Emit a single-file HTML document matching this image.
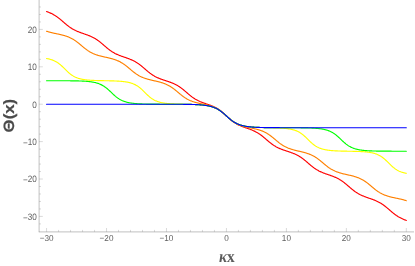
<!DOCTYPE html>
<html><head><meta charset="utf-8"><style>
html,body{margin:0;padding:0;background:#fff;}
body{width:415px;height:266px;overflow:hidden;font-family:"Liberation Sans",sans-serif;}
svg{display:block;will-change:transform;}
text{font-family:"Liberation Sans",sans-serif;text-rendering:geometricPrecision;}
.ser{font-family:"Liberation Serif",serif;}
</style></head><body>
<svg width="415" height="266" viewBox="0 0 415 266">
<rect width="415" height="266" fill="#fff"/>
<line x1="39.1" y1="0" x2="39.1" y2="232.15" stroke="#808080" stroke-width="0.5"/>
<line x1="38.85" y1="231.9" x2="414" y2="231.9" stroke="#808080" stroke-width="0.5"/>
<line x1="39.1" y1="223.90" x2="41.00" y2="223.90" stroke="#808080" stroke-width="0.3"/>
<line x1="39.1" y1="216.42" x2="42.80" y2="216.42" stroke="#808080" stroke-width="0.3"/>
<line x1="39.1" y1="208.94" x2="41.00" y2="208.94" stroke="#808080" stroke-width="0.3"/>
<line x1="39.1" y1="201.46" x2="41.00" y2="201.46" stroke="#808080" stroke-width="0.3"/>
<line x1="39.1" y1="193.98" x2="41.00" y2="193.98" stroke="#808080" stroke-width="0.3"/>
<line x1="39.1" y1="186.50" x2="41.00" y2="186.50" stroke="#808080" stroke-width="0.3"/>
<line x1="39.1" y1="179.02" x2="42.80" y2="179.02" stroke="#808080" stroke-width="0.3"/>
<line x1="39.1" y1="171.54" x2="41.00" y2="171.54" stroke="#808080" stroke-width="0.3"/>
<line x1="39.1" y1="164.06" x2="41.00" y2="164.06" stroke="#808080" stroke-width="0.3"/>
<line x1="39.1" y1="156.58" x2="41.00" y2="156.58" stroke="#808080" stroke-width="0.3"/>
<line x1="39.1" y1="149.10" x2="41.00" y2="149.10" stroke="#808080" stroke-width="0.3"/>
<line x1="39.1" y1="141.62" x2="42.80" y2="141.62" stroke="#808080" stroke-width="0.3"/>
<line x1="39.1" y1="134.14" x2="41.00" y2="134.14" stroke="#808080" stroke-width="0.3"/>
<line x1="39.1" y1="126.66" x2="41.00" y2="126.66" stroke="#808080" stroke-width="0.3"/>
<line x1="39.1" y1="119.18" x2="41.00" y2="119.18" stroke="#808080" stroke-width="0.3"/>
<line x1="39.1" y1="111.70" x2="41.00" y2="111.70" stroke="#808080" stroke-width="0.3"/>
<line x1="39.1" y1="104.22" x2="42.80" y2="104.22" stroke="#808080" stroke-width="0.3"/>
<line x1="39.1" y1="96.74" x2="41.00" y2="96.74" stroke="#808080" stroke-width="0.3"/>
<line x1="39.1" y1="89.26" x2="41.00" y2="89.26" stroke="#808080" stroke-width="0.3"/>
<line x1="39.1" y1="81.78" x2="41.00" y2="81.78" stroke="#808080" stroke-width="0.3"/>
<line x1="39.1" y1="74.30" x2="41.00" y2="74.30" stroke="#808080" stroke-width="0.3"/>
<line x1="39.1" y1="66.82" x2="42.80" y2="66.82" stroke="#808080" stroke-width="0.3"/>
<line x1="39.1" y1="59.34" x2="41.00" y2="59.34" stroke="#808080" stroke-width="0.3"/>
<line x1="39.1" y1="51.86" x2="41.00" y2="51.86" stroke="#808080" stroke-width="0.3"/>
<line x1="39.1" y1="44.38" x2="41.00" y2="44.38" stroke="#808080" stroke-width="0.3"/>
<line x1="39.1" y1="36.90" x2="41.00" y2="36.90" stroke="#808080" stroke-width="0.3"/>
<line x1="39.1" y1="29.42" x2="42.80" y2="29.42" stroke="#808080" stroke-width="0.3"/>
<line x1="39.1" y1="21.94" x2="41.00" y2="21.94" stroke="#808080" stroke-width="0.3"/>
<line x1="39.1" y1="14.46" x2="41.00" y2="14.46" stroke="#808080" stroke-width="0.3"/>
<line x1="39.1" y1="6.98" x2="41.00" y2="6.98" stroke="#808080" stroke-width="0.3"/>
<line x1="46.56" y1="231.9" x2="46.56" y2="228.00" stroke="#808080" stroke-width="0.3"/>
<line x1="58.55" y1="231.9" x2="58.55" y2="229.90" stroke="#808080" stroke-width="0.3"/>
<line x1="70.54" y1="231.9" x2="70.54" y2="229.90" stroke="#808080" stroke-width="0.3"/>
<line x1="82.54" y1="231.9" x2="82.54" y2="229.90" stroke="#808080" stroke-width="0.3"/>
<line x1="94.53" y1="231.9" x2="94.53" y2="229.90" stroke="#808080" stroke-width="0.3"/>
<line x1="106.52" y1="231.9" x2="106.52" y2="228.00" stroke="#808080" stroke-width="0.3"/>
<line x1="118.51" y1="231.9" x2="118.51" y2="229.90" stroke="#808080" stroke-width="0.3"/>
<line x1="130.50" y1="231.9" x2="130.50" y2="229.90" stroke="#808080" stroke-width="0.3"/>
<line x1="142.50" y1="231.9" x2="142.50" y2="229.90" stroke="#808080" stroke-width="0.3"/>
<line x1="154.49" y1="231.9" x2="154.49" y2="229.90" stroke="#808080" stroke-width="0.3"/>
<line x1="166.48" y1="231.9" x2="166.48" y2="228.00" stroke="#808080" stroke-width="0.3"/>
<line x1="178.47" y1="231.9" x2="178.47" y2="229.90" stroke="#808080" stroke-width="0.3"/>
<line x1="190.46" y1="231.9" x2="190.46" y2="229.90" stroke="#808080" stroke-width="0.3"/>
<line x1="202.46" y1="231.9" x2="202.46" y2="229.90" stroke="#808080" stroke-width="0.3"/>
<line x1="214.45" y1="231.9" x2="214.45" y2="229.90" stroke="#808080" stroke-width="0.3"/>
<line x1="226.44" y1="231.9" x2="226.44" y2="228.00" stroke="#808080" stroke-width="0.3"/>
<line x1="238.43" y1="231.9" x2="238.43" y2="229.90" stroke="#808080" stroke-width="0.3"/>
<line x1="250.42" y1="231.9" x2="250.42" y2="229.90" stroke="#808080" stroke-width="0.3"/>
<line x1="262.42" y1="231.9" x2="262.42" y2="229.90" stroke="#808080" stroke-width="0.3"/>
<line x1="274.41" y1="231.9" x2="274.41" y2="229.90" stroke="#808080" stroke-width="0.3"/>
<line x1="286.40" y1="231.9" x2="286.40" y2="228.00" stroke="#808080" stroke-width="0.3"/>
<line x1="298.39" y1="231.9" x2="298.39" y2="229.90" stroke="#808080" stroke-width="0.3"/>
<line x1="310.38" y1="231.9" x2="310.38" y2="229.90" stroke="#808080" stroke-width="0.3"/>
<line x1="322.38" y1="231.9" x2="322.38" y2="229.90" stroke="#808080" stroke-width="0.3"/>
<line x1="334.37" y1="231.9" x2="334.37" y2="229.90" stroke="#808080" stroke-width="0.3"/>
<line x1="346.36" y1="231.9" x2="346.36" y2="228.00" stroke="#808080" stroke-width="0.3"/>
<line x1="358.35" y1="231.9" x2="358.35" y2="229.90" stroke="#808080" stroke-width="0.3"/>
<line x1="370.34" y1="231.9" x2="370.34" y2="229.90" stroke="#808080" stroke-width="0.3"/>
<line x1="382.34" y1="231.9" x2="382.34" y2="229.90" stroke="#808080" stroke-width="0.3"/>
<line x1="394.33" y1="231.9" x2="394.33" y2="229.90" stroke="#808080" stroke-width="0.3"/>
<line x1="406.32" y1="231.9" x2="406.32" y2="228.00" stroke="#808080" stroke-width="0.3"/>
<path d="M46.56 11.49 L47.06 11.68 L47.56 11.87 L48.06 12.07 L48.56 12.27 L49.06 12.47 L49.56 12.69 L50.06 12.90 L50.56 13.13 L51.06 13.36 L51.56 13.60 L52.06 13.85 L52.56 14.11 L53.06 14.38 L53.56 14.65 L54.05 14.94 L54.55 15.24 L55.05 15.54 L55.55 15.86 L56.05 16.19 L56.55 16.52 L57.05 16.87 L57.55 17.23 L58.05 17.60 L58.55 17.98 L59.05 18.37 L59.55 18.76 L60.05 19.17 L60.55 19.58 L61.05 20.00 L61.55 20.42 L62.05 20.85 L62.55 21.28 L63.05 21.71 L63.55 22.15 L64.05 22.58 L64.55 23.01 L65.05 23.44 L65.55 23.86 L66.05 24.28 L66.55 24.70 L67.05 25.10 L67.55 25.50 L68.05 25.89 L68.55 26.27 L69.04 26.64 L69.54 27.00 L70.04 27.35 L70.54 27.69 L71.04 28.02 L71.54 28.34 L72.04 28.65 L72.54 28.95 L73.04 29.24 L73.54 29.52 L74.04 29.78 L74.54 30.04 L75.04 30.29 L75.54 30.54 L76.04 30.77 L76.54 31.00 L77.04 31.22 L77.54 31.43 L78.04 31.64 L78.54 31.84 L79.04 32.03 L79.54 32.23 L80.04 32.41 L80.54 32.60 L81.04 32.78 L81.54 32.96 L82.04 33.13 L82.54 33.31 L83.04 33.48 L83.54 33.65 L84.03 33.83 L84.53 34.00 L85.03 34.17 L85.53 34.35 L86.03 34.52 L86.53 34.70 L87.03 34.88 L87.53 35.07 L88.03 35.26 L88.53 35.45 L89.03 35.65 L89.53 35.85 L90.03 36.06 L90.53 36.27 L91.03 36.49 L91.53 36.72 L92.03 36.96 L92.53 37.20 L93.03 37.45 L93.53 37.71 L94.03 37.98 L94.53 38.27 L95.03 38.56 L95.53 38.86 L96.03 39.17 L96.53 39.49 L97.03 39.82 L97.53 40.16 L98.03 40.51 L98.53 40.88 L99.02 41.25 L99.52 41.63 L100.02 42.02 L100.52 42.42 L101.02 42.83 L101.52 43.25 L102.02 43.67 L102.52 44.09 L103.02 44.52 L103.52 44.95 L104.02 45.39 L104.52 45.82 L105.02 46.25 L105.52 46.68 L106.02 47.11 L106.52 47.53 L107.02 47.95 L107.52 48.36 L108.02 48.76 L108.52 49.16 L109.02 49.54 L109.52 49.92 L110.02 50.29 L110.52 50.64 L111.02 50.99 L111.52 51.33 L112.02 51.65 L112.52 51.97 L113.02 52.27 L113.52 52.56 L114.01 52.85 L114.51 53.12 L115.01 53.39 L115.51 53.64 L116.01 53.89 L116.51 54.13 L117.01 54.36 L117.51 54.58 L118.01 54.80 L118.51 55.01 L119.01 55.22 L119.51 55.42 L120.01 55.61 L120.51 55.80 L121.01 55.99 L121.51 56.17 L122.01 56.35 L122.51 56.53 L123.01 56.70 L123.51 56.87 L124.01 57.05 L124.51 57.22 L125.01 57.39 L125.51 57.57 L126.01 57.74 L126.51 57.91 L127.01 58.09 L127.51 58.27 L128.01 58.45 L128.51 58.64 L129.00 58.83 L129.50 59.02 L130.00 59.22 L130.50 59.43 L131.00 59.64 L131.50 59.85 L132.00 60.08 L132.50 60.31 L133.00 60.55 L133.50 60.80 L134.00 61.05 L134.50 61.32 L135.00 61.59 L135.50 61.87 L136.00 62.17 L136.50 62.47 L137.00 62.79 L137.50 63.11 L138.00 63.45 L138.50 63.79 L139.00 64.15 L139.50 64.51 L140.00 64.89 L140.50 65.28 L141.00 65.67 L141.50 66.07 L142.00 66.48 L142.50 66.90 L143.00 67.32 L143.50 67.75 L144.00 68.18 L144.49 68.61 L144.99 69.04 L145.49 69.47 L145.99 69.90 L146.49 70.33 L146.99 70.76 L147.49 71.18 L147.99 71.59 L148.49 72.00 L148.99 72.39 L149.49 72.78 L149.99 73.17 L150.49 73.54 L150.99 73.90 L151.49 74.25 L151.99 74.59 L152.49 74.92 L152.99 75.24 L153.49 75.55 L153.99 75.84 L154.49 76.13 L154.99 76.41 L155.49 76.68 L155.99 76.93 L156.49 77.18 L156.99 77.42 L157.49 77.66 L157.99 77.88 L158.49 78.10 L158.99 78.31 L159.48 78.51 L159.98 78.71 L160.48 78.90 L160.98 79.09 L161.48 79.27 L161.98 79.45 L162.48 79.63 L162.98 79.80 L163.48 79.97 L163.98 80.14 L164.48 80.30 L164.98 80.47 L165.48 80.63 L165.98 80.80 L166.48 80.96 L166.98 81.13 L167.48 81.29 L167.98 81.46 L168.48 81.63 L168.98 81.80 L169.48 81.98 L169.98 82.15 L170.48 82.34 L170.98 82.52 L171.48 82.72 L171.98 82.91 L172.48 83.12 L172.98 83.33 L173.48 83.54 L173.97 83.77 L174.47 84.00 L174.97 84.24 L175.47 84.49 L175.97 84.75 L176.47 85.01 L176.97 85.29 L177.47 85.58 L177.97 85.87 L178.47 86.18 L178.97 86.50 L179.47 86.83 L179.97 87.17 L180.47 87.52 L180.97 87.88 L181.47 88.25 L181.97 88.63 L182.47 89.02 L182.97 89.42 L183.47 89.82 L183.97 90.23 L184.47 90.65 L184.97 91.07 L185.47 91.50 L185.97 91.93 L186.47 92.36 L186.97 92.79 L187.47 93.22 L187.97 93.65 L188.47 94.07 L188.97 94.49 L189.46 94.91 L189.96 95.32 L190.46 95.72 L190.96 96.11 L191.46 96.49 L191.96 96.87 L192.46 97.23 L192.96 97.58 L193.46 97.93 L193.96 98.26 L194.46 98.58 L194.96 98.90 L195.46 99.20 L195.96 99.49 L196.46 99.77 L196.96 100.04 L197.46 100.30 L197.96 100.56 L198.46 100.80 L198.96 101.04 L199.46 101.26 L199.96 101.49 L200.46 101.70 L200.96 101.91 L201.46 102.11 L201.96 102.31 L202.46 102.50 L202.96 102.69 L203.46 102.87 L203.95 103.05 L204.45 103.23 L204.95 103.40 L205.45 103.58 L205.95 103.75 L206.45 103.92 L206.95 104.10 L207.45 104.27 L207.95 104.44 L208.45 104.62 L208.95 104.79 L209.45 104.97 L209.95 105.16 L210.45 105.34 L210.95 105.53 L211.45 105.73 L211.95 105.93 L212.45 106.14 L212.95 106.35 L213.45 106.57 L213.95 106.80 L214.45 107.04 L214.95 107.28 L215.45 107.54 L215.95 107.80 L216.45 108.08 L216.95 108.37 L217.45 108.66 L217.95 108.97 L218.45 109.30 L218.94 109.63 L219.44 109.98 L219.94 110.34 L220.44 110.71 L220.94 111.10 L221.44 111.49 L221.94 111.90 L222.44 112.32 L222.94 112.75 L223.44 113.20 L223.94 113.64 L224.44 114.10 L224.94 114.56 L225.44 115.03 L225.94 115.50 L226.44 115.97 L226.94 116.44 L227.44 116.91 L227.94 117.38 L228.44 117.84 L228.94 118.30 L229.44 118.74 L229.94 119.18 L230.44 119.61 L230.94 120.04 L231.44 120.44 L231.94 120.84 L232.44 121.23 L232.94 121.60 L233.44 121.96 L233.94 122.31 L234.43 122.64 L234.93 122.96 L235.43 123.27 L235.93 123.57 L236.43 123.86 L236.93 124.14 L237.43 124.40 L237.93 124.66 L238.43 124.90 L238.93 125.14 L239.43 125.37 L239.93 125.59 L240.43 125.80 L240.93 126.01 L241.43 126.21 L241.93 126.41 L242.43 126.60 L242.93 126.78 L243.43 126.97 L243.93 127.15 L244.43 127.32 L244.93 127.50 L245.43 127.67 L245.93 127.84 L246.43 128.02 L246.93 128.19 L247.43 128.36 L247.93 128.53 L248.43 128.71 L248.93 128.89 L249.42 129.07 L249.92 129.25 L250.42 129.44 L250.92 129.63 L251.42 129.83 L251.92 130.03 L252.42 130.24 L252.92 130.45 L253.42 130.67 L253.92 130.90 L254.42 131.14 L254.92 131.38 L255.42 131.64 L255.92 131.90 L256.42 132.17 L256.92 132.45 L257.42 132.74 L257.92 133.04 L258.42 133.36 L258.92 133.68 L259.42 134.01 L259.92 134.35 L260.42 134.71 L260.92 135.07 L261.42 135.45 L261.92 135.83 L262.42 136.22 L262.92 136.62 L263.42 137.03 L263.92 137.45 L264.41 137.87 L264.91 138.29 L265.41 138.72 L265.91 139.15 L266.41 139.58 L266.91 140.01 L267.41 140.44 L267.91 140.87 L268.41 141.29 L268.91 141.71 L269.41 142.12 L269.91 142.52 L270.41 142.92 L270.91 143.31 L271.41 143.69 L271.91 144.06 L272.41 144.42 L272.91 144.77 L273.41 145.11 L273.91 145.44 L274.41 145.76 L274.91 146.06 L275.41 146.36 L275.91 146.65 L276.41 146.92 L276.91 147.19 L277.41 147.45 L277.91 147.70 L278.41 147.94 L278.90 148.17 L279.40 148.39 L279.90 148.61 L280.40 148.82 L280.90 149.02 L281.40 149.22 L281.90 149.41 L282.40 149.60 L282.90 149.78 L283.40 149.96 L283.90 150.14 L284.40 150.31 L284.90 150.48 L285.40 150.65 L285.90 150.81 L286.40 150.98 L286.90 151.14 L287.40 151.31 L287.90 151.47 L288.40 151.64 L288.90 151.80 L289.40 151.97 L289.90 152.14 L290.40 152.31 L290.90 152.49 L291.40 152.67 L291.90 152.85 L292.40 153.04 L292.90 153.23 L293.40 153.43 L293.89 153.63 L294.39 153.84 L294.89 154.06 L295.39 154.28 L295.89 154.51 L296.39 154.75 L296.89 155.00 L297.39 155.26 L297.89 155.53 L298.39 155.81 L298.89 156.10 L299.39 156.39 L299.89 156.70 L300.39 157.02 L300.89 157.35 L301.39 157.69 L301.89 158.04 L302.39 158.40 L302.89 158.77 L303.39 159.15 L303.89 159.54 L304.39 159.94 L304.89 160.35 L305.39 160.76 L305.89 161.18 L306.39 161.61 L306.89 162.03 L307.39 162.47 L307.89 162.90 L308.39 163.33 L308.88 163.76 L309.38 164.19 L309.88 164.62 L310.38 165.04 L310.88 165.46 L311.38 165.87 L311.88 166.27 L312.38 166.66 L312.88 167.05 L313.38 167.42 L313.88 167.79 L314.38 168.15 L314.88 168.49 L315.38 168.83 L315.88 169.15 L316.38 169.47 L316.88 169.77 L317.38 170.07 L317.88 170.35 L318.38 170.62 L318.88 170.89 L319.38 171.14 L319.88 171.39 L320.38 171.63 L320.88 171.86 L321.38 172.08 L321.88 172.30 L322.38 172.51 L322.88 172.72 L323.38 172.92 L323.88 173.11 L324.37 173.30 L324.87 173.49 L325.37 173.67 L325.87 173.85 L326.37 174.02 L326.87 174.20 L327.37 174.37 L327.87 174.55 L328.37 174.72 L328.87 174.89 L329.37 175.06 L329.87 175.24 L330.37 175.41 L330.87 175.59 L331.37 175.77 L331.87 175.95 L332.37 176.14 L332.87 176.33 L333.37 176.52 L333.87 176.72 L334.37 176.93 L334.87 177.14 L335.37 177.35 L335.87 177.58 L336.37 177.81 L336.87 178.05 L337.37 178.30 L337.87 178.55 L338.37 178.82 L338.87 179.09 L339.36 179.38 L339.86 179.67 L340.36 179.97 L340.86 180.29 L341.36 180.61 L341.86 180.95 L342.36 181.30 L342.86 181.65 L343.36 182.02 L343.86 182.40 L344.36 182.78 L344.86 183.18 L345.36 183.58 L345.86 183.99 L346.36 184.41 L346.86 184.83 L347.36 185.26 L347.86 185.69 L348.36 186.12 L348.86 186.55 L349.36 186.99 L349.86 187.42 L350.36 187.85 L350.86 188.27 L351.36 188.69 L351.86 189.11 L352.36 189.52 L352.86 189.92 L353.36 190.31 L353.86 190.69 L354.35 191.06 L354.85 191.43 L355.35 191.78 L355.85 192.12 L356.35 192.45 L356.85 192.77 L357.35 193.08 L357.85 193.38 L358.35 193.67 L358.85 193.95 L359.35 194.22 L359.85 194.49 L360.35 194.74 L360.85 194.98 L361.35 195.22 L361.85 195.45 L362.35 195.67 L362.85 195.88 L363.35 196.09 L363.85 196.29 L364.35 196.49 L364.85 196.68 L365.35 196.87 L365.85 197.06 L366.35 197.24 L366.85 197.42 L367.35 197.59 L367.85 197.77 L368.35 197.94 L368.85 198.11 L369.34 198.29 L369.84 198.46 L370.34 198.63 L370.84 198.81 L371.34 198.98 L371.84 199.16 L372.34 199.34 L372.84 199.52 L373.34 199.71 L373.84 199.90 L374.34 200.10 L374.84 200.30 L375.34 200.51 L375.84 200.72 L376.34 200.94 L376.84 201.17 L377.34 201.40 L377.84 201.65 L378.34 201.90 L378.84 202.16 L379.34 202.42 L379.84 202.70 L380.34 202.99 L380.84 203.29 L381.34 203.60 L381.84 203.92 L382.34 204.25 L382.84 204.59 L383.34 204.94 L383.84 205.30 L384.33 205.67 L384.83 206.05 L385.33 206.44 L385.83 206.84 L386.33 207.24 L386.83 207.66 L387.33 208.08 L387.83 208.50 L388.33 208.93 L388.83 209.36 L389.33 209.79 L389.83 210.23 L390.33 210.66 L390.83 211.09 L391.33 211.52 L391.83 211.94 L392.33 212.36 L392.83 212.77 L393.33 213.18 L393.83 213.57 L394.33 213.96 L394.83 214.34 L395.33 214.71 L395.83 215.07 L396.33 215.42 L396.83 215.75 L397.33 216.08 L397.83 216.40 L398.33 216.70 L398.83 217.00 L399.32 217.29 L399.82 217.56 L400.32 217.83 L400.82 218.09 L401.32 218.34 L401.82 218.58 L402.32 218.81 L402.82 219.03 L403.32 219.25 L403.82 219.46 L404.32 219.67 L404.82 219.87 L405.32 220.07 L405.82 220.26 L406.32 220.44" fill="none" stroke="#ff0000" stroke-width="1.15" stroke-linejoin="round" stroke-linecap="round"/>
<path d="M46.56 31.23 L47.06 31.40 L47.56 31.56 L48.06 31.71 L48.56 31.86 L49.06 32.00 L49.56 32.14 L50.06 32.28 L50.56 32.40 L51.06 32.53 L51.56 32.65 L52.06 32.77 L52.56 32.88 L53.06 33.00 L53.56 33.11 L54.05 33.22 L54.55 33.32 L55.05 33.43 L55.55 33.54 L56.05 33.64 L56.55 33.74 L57.05 33.85 L57.55 33.95 L58.05 34.06 L58.55 34.17 L59.05 34.27 L59.55 34.38 L60.05 34.50 L60.55 34.61 L61.05 34.73 L61.55 34.85 L62.05 34.97 L62.55 35.10 L63.05 35.23 L63.55 35.36 L64.05 35.50 L64.55 35.64 L65.05 35.79 L65.55 35.95 L66.05 36.11 L66.55 36.28 L67.05 36.46 L67.55 36.64 L68.05 36.83 L68.55 37.03 L69.04 37.24 L69.54 37.46 L70.04 37.69 L70.54 37.92 L71.04 38.17 L71.54 38.43 L72.04 38.69 L72.54 38.97 L73.04 39.26 L73.54 39.56 L74.04 39.87 L74.54 40.20 L75.04 40.53 L75.54 40.88 L76.04 41.23 L76.54 41.60 L77.04 41.97 L77.54 42.36 L78.04 42.75 L78.54 43.15 L79.04 43.56 L79.54 43.97 L80.04 44.39 L80.54 44.81 L81.04 45.23 L81.54 45.65 L82.04 46.07 L82.54 46.49 L83.04 46.91 L83.54 47.32 L84.03 47.73 L84.53 48.13 L85.03 48.53 L85.53 48.91 L86.03 49.29 L86.53 49.66 L87.03 50.02 L87.53 50.37 L88.03 50.70 L88.53 51.03 L89.03 51.34 L89.53 51.65 L90.03 51.94 L90.53 52.22 L91.03 52.49 L91.53 52.75 L92.03 53.00 L92.53 53.24 L93.03 53.47 L93.53 53.70 L94.03 53.91 L94.53 54.11 L95.03 54.31 L95.53 54.49 L96.03 54.67 L96.53 54.85 L97.03 55.01 L97.53 55.17 L98.03 55.33 L98.53 55.47 L99.02 55.62 L99.52 55.76 L100.02 55.89 L100.52 56.02 L101.02 56.15 L101.52 56.28 L102.02 56.40 L102.52 56.52 L103.02 56.63 L103.52 56.75 L104.02 56.86 L104.52 56.98 L105.02 57.09 L105.52 57.20 L106.02 57.31 L106.52 57.42 L107.02 57.54 L107.52 57.65 L108.02 57.76 L108.52 57.88 L109.02 58.00 L109.52 58.12 L110.02 58.24 L110.52 58.37 L111.02 58.50 L111.52 58.63 L112.02 58.77 L112.52 58.91 L113.02 59.06 L113.52 59.21 L114.01 59.37 L114.51 59.53 L115.01 59.70 L115.51 59.88 L116.01 60.06 L116.51 60.26 L117.01 60.46 L117.51 60.67 L118.01 60.88 L118.51 61.11 L119.01 61.35 L119.51 61.59 L120.01 61.85 L120.51 62.12 L121.01 62.39 L121.51 62.68 L122.01 62.98 L122.51 63.29 L123.01 63.61 L123.51 63.95 L124.01 64.29 L124.51 64.65 L125.01 65.01 L125.51 65.38 L126.01 65.77 L126.51 66.16 L127.01 66.56 L127.51 66.96 L128.01 67.38 L128.51 67.79 L129.00 68.21 L129.50 68.64 L130.00 69.06 L130.50 69.48 L131.00 69.90 L131.50 70.32 L132.00 70.74 L132.50 71.15 L133.00 71.55 L133.50 71.95 L134.00 72.33 L134.50 72.71 L135.00 73.08 L135.50 73.45 L136.00 73.80 L136.50 74.14 L137.00 74.46 L137.50 74.78 L138.00 75.09 L138.50 75.38 L139.00 75.67 L139.50 75.94 L140.00 76.21 L140.50 76.46 L141.00 76.70 L141.50 76.93 L142.00 77.16 L142.50 77.37 L143.00 77.58 L143.50 77.77 L144.00 77.96 L144.49 78.15 L144.99 78.32 L145.49 78.49 L145.99 78.65 L146.49 78.81 L146.99 78.96 L147.49 79.10 L147.99 79.24 L148.49 79.38 L148.99 79.51 L149.49 79.64 L149.99 79.77 L150.49 79.89 L150.99 80.01 L151.49 80.13 L151.99 80.25 L152.49 80.37 L152.99 80.48 L153.49 80.59 L153.99 80.71 L154.49 80.82 L154.99 80.93 L155.49 81.05 L155.99 81.16 L156.49 81.28 L156.99 81.40 L157.49 81.52 L157.99 81.64 L158.49 81.77 L158.99 81.90 L159.48 82.03 L159.98 82.16 L160.48 82.30 L160.98 82.45 L161.48 82.60 L161.98 82.75 L162.48 82.91 L162.98 83.08 L163.48 83.25 L163.98 83.43 L164.48 83.62 L164.98 83.82 L165.48 84.02 L165.98 84.23 L166.48 84.45 L166.98 84.69 L167.48 84.93 L167.98 85.18 L168.48 85.44 L168.98 85.71 L169.48 85.99 L169.98 86.28 L170.48 86.59 L170.98 86.90 L171.48 87.23 L171.98 87.56 L172.48 87.91 L172.98 88.27 L173.48 88.64 L173.97 89.01 L174.47 89.40 L174.97 89.80 L175.47 90.20 L175.97 90.60 L176.47 91.02 L176.97 91.43 L177.47 91.85 L177.97 92.28 L178.47 92.70 L178.97 93.12 L179.47 93.54 L179.97 93.95 L180.47 94.37 L180.97 94.77 L181.47 95.17 L181.97 95.56 L182.47 95.95 L182.97 96.32 L183.47 96.69 L183.97 97.04 L184.47 97.38 L184.97 97.72 L185.47 98.04 L185.97 98.35 L186.47 98.65 L186.97 98.94 L187.47 99.22 L187.97 99.48 L188.47 99.74 L188.97 99.98 L189.46 100.22 L189.96 100.45 L190.46 100.66 L190.96 100.87 L191.46 101.07 L191.96 101.26 L192.46 101.44 L192.96 101.62 L193.46 101.78 L193.96 101.94 L194.46 102.10 L194.96 102.25 L195.46 102.39 L195.96 102.53 L196.46 102.67 L196.96 102.79 L197.46 102.92 L197.96 103.04 L198.46 103.16 L198.96 103.28 L199.46 103.39 L199.96 103.50 L200.46 103.61 L200.96 103.72 L201.46 103.83 L201.96 103.93 L202.46 104.04 L202.96 104.15 L203.46 104.25 L203.95 104.36 L204.45 104.47 L204.95 104.57 L205.45 104.69 L205.95 104.80 L206.45 104.91 L206.95 105.03 L207.45 105.15 L207.95 105.28 L208.45 105.40 L208.95 105.54 L209.45 105.68 L209.95 105.82 L210.45 105.97 L210.95 106.12 L211.45 106.28 L211.95 106.45 L212.45 106.63 L212.95 106.81 L213.45 107.01 L213.95 107.21 L214.45 107.42 L214.95 107.64 L215.45 107.88 L215.95 108.12 L216.45 108.37 L216.95 108.64 L217.45 108.92 L217.95 109.21 L218.45 109.52 L218.94 109.83 L219.44 110.17 L219.94 110.51 L220.44 110.87 L220.94 111.24 L221.44 111.62 L221.94 112.02 L222.44 112.42 L222.94 112.84 L223.44 113.27 L223.94 113.70 L224.44 114.15 L224.94 114.60 L225.44 115.05 L225.94 115.51 L226.44 115.97 L226.94 116.43 L227.44 116.88 L227.94 117.34 L228.44 117.79 L228.94 118.23 L229.44 118.67 L229.94 119.09 L230.44 119.51 L230.94 119.92 L231.44 120.31 L231.94 120.69 L232.44 121.06 L232.94 121.42 L233.44 121.77 L233.94 122.10 L234.43 122.41 L234.93 122.72 L235.43 123.01 L235.93 123.29 L236.43 123.55 L236.93 123.81 L237.43 124.05 L237.93 124.28 L238.43 124.51 L238.93 124.72 L239.43 124.92 L239.93 125.11 L240.43 125.29 L240.93 125.47 L241.43 125.64 L241.93 125.80 L242.43 125.95 L242.93 126.10 L243.43 126.24 L243.93 126.38 L244.43 126.51 L244.93 126.64 L245.43 126.76 L245.93 126.88 L246.43 127.00 L246.93 127.11 L247.43 127.22 L247.93 127.33 L248.43 127.44 L248.93 127.54 L249.42 127.65 L249.92 127.75 L250.42 127.85 L250.92 127.96 L251.42 128.06 L251.92 128.16 L252.42 128.27 L252.92 128.38 L253.42 128.48 L253.92 128.59 L254.42 128.71 L254.92 128.82 L255.42 128.94 L255.92 129.06 L256.42 129.19 L256.92 129.31 L257.42 129.45 L257.92 129.59 L258.42 129.73 L258.92 129.88 L259.42 130.03 L259.92 130.20 L260.42 130.36 L260.92 130.54 L261.42 130.72 L261.92 130.91 L262.42 131.11 L262.92 131.32 L263.42 131.54 L263.92 131.77 L264.41 132.00 L264.91 132.25 L265.41 132.51 L265.91 132.77 L266.41 133.05 L266.91 133.34 L267.41 133.64 L267.91 133.96 L268.41 134.28 L268.91 134.62 L269.41 134.96 L269.91 135.32 L270.41 135.68 L270.91 136.06 L271.41 136.44 L271.91 136.84 L272.41 137.24 L272.91 137.64 L273.41 138.06 L273.91 138.47 L274.41 138.89 L274.91 139.31 L275.41 139.74 L275.91 140.16 L276.41 140.58 L276.91 140.99 L277.41 141.41 L277.91 141.81 L278.41 142.21 L278.90 142.61 L279.40 142.99 L279.90 143.37 L280.40 143.73 L280.90 144.09 L281.40 144.44 L281.90 144.77 L282.40 145.10 L282.90 145.41 L283.40 145.71 L283.90 146.01 L284.40 146.29 L284.90 146.56 L285.40 146.82 L285.90 147.06 L286.40 147.30 L286.90 147.53 L287.40 147.75 L287.90 147.97 L288.40 148.17 L288.90 148.36 L289.40 148.55 L289.90 148.73 L290.40 148.90 L290.90 149.07 L291.40 149.23 L291.90 149.39 L292.40 149.54 L292.90 149.68 L293.40 149.82 L293.89 149.96 L294.39 150.09 L294.89 150.22 L295.39 150.35 L295.89 150.47 L296.39 150.59 L296.89 150.71 L297.39 150.83 L297.89 150.95 L298.39 151.07 L298.89 151.18 L299.39 151.30 L299.89 151.42 L300.39 151.53 L300.89 151.65 L301.39 151.77 L301.89 151.89 L302.39 152.01 L302.89 152.14 L303.39 152.27 L303.89 152.40 L304.39 152.53 L304.89 152.67 L305.39 152.81 L305.89 152.96 L306.39 153.11 L306.89 153.27 L307.39 153.43 L307.89 153.60 L308.39 153.78 L308.88 153.96 L309.38 154.15 L309.88 154.35 L310.38 154.55 L310.88 154.77 L311.38 154.99 L311.88 155.23 L312.38 155.47 L312.88 155.72 L313.38 155.99 L313.88 156.26 L314.38 156.55 L314.88 156.84 L315.38 157.15 L315.88 157.47 L316.38 157.80 L316.88 158.14 L317.38 158.49 L317.88 158.85 L318.38 159.22 L318.88 159.60 L319.38 159.99 L319.88 160.39 L320.38 160.79 L320.88 161.20 L321.38 161.61 L321.88 162.03 L322.38 162.45 L322.88 162.88 L323.38 163.30 L323.88 163.72 L324.37 164.14 L324.87 164.56 L325.37 164.97 L325.87 165.38 L326.37 165.78 L326.87 166.17 L327.37 166.55 L327.87 166.93 L328.37 167.29 L328.87 167.65 L329.37 167.99 L329.87 168.32 L330.37 168.65 L330.87 168.96 L331.37 169.26 L331.87 169.54 L332.37 169.82 L332.87 170.09 L333.37 170.35 L333.87 170.59 L334.37 170.83 L334.87 171.06 L335.37 171.27 L335.87 171.48 L336.37 171.68 L336.87 171.87 L337.37 172.06 L337.87 172.24 L338.37 172.41 L338.87 172.57 L339.36 172.73 L339.86 172.88 L340.36 173.03 L340.86 173.17 L341.36 173.31 L341.86 173.44 L342.36 173.57 L342.86 173.70 L343.36 173.82 L343.86 173.94 L344.36 174.06 L344.86 174.17 L345.36 174.29 L345.86 174.40 L346.36 174.52 L346.86 174.63 L347.36 174.74 L347.86 174.85 L348.36 174.96 L348.86 175.08 L349.36 175.19 L349.86 175.31 L350.36 175.42 L350.86 175.54 L351.36 175.66 L351.86 175.79 L352.36 175.92 L352.86 176.05 L353.36 176.18 L353.86 176.32 L354.35 176.46 L354.85 176.61 L355.35 176.77 L355.85 176.93 L356.35 177.09 L356.85 177.27 L357.35 177.45 L357.85 177.63 L358.35 177.83 L358.85 178.03 L359.35 178.24 L359.85 178.46 L360.35 178.70 L360.85 178.94 L361.35 179.19 L361.85 179.45 L362.35 179.72 L362.85 180.00 L363.35 180.29 L363.85 180.60 L364.35 180.91 L364.85 181.24 L365.35 181.57 L365.85 181.92 L366.35 182.28 L366.85 182.65 L367.35 183.03 L367.85 183.41 L368.35 183.81 L368.85 184.21 L369.34 184.62 L369.84 185.03 L370.34 185.45 L370.84 185.87 L371.34 186.29 L371.84 186.71 L372.34 187.13 L372.84 187.55 L373.34 187.97 L373.84 188.38 L374.34 188.79 L374.84 189.19 L375.34 189.58 L375.84 189.97 L376.34 190.34 L376.84 190.71 L377.34 191.06 L377.84 191.41 L378.34 191.74 L378.84 192.06 L379.34 192.38 L379.84 192.68 L380.34 192.97 L380.84 193.24 L381.34 193.51 L381.84 193.77 L382.34 194.02 L382.84 194.25 L383.34 194.48 L383.84 194.70 L384.33 194.91 L384.83 195.11 L385.33 195.30 L385.83 195.48 L386.33 195.66 L386.83 195.83 L387.33 195.99 L387.83 196.14 L388.33 196.29 L388.83 196.44 L389.33 196.58 L389.83 196.71 L390.33 196.84 L390.83 196.97 L391.33 197.09 L391.83 197.21 L392.33 197.33 L392.83 197.44 L393.33 197.55 L393.83 197.66 L394.33 197.77 L394.83 197.88 L395.33 197.98 L395.83 198.09 L396.33 198.19 L396.83 198.30 L397.33 198.40 L397.83 198.51 L398.33 198.62 L398.83 198.72 L399.32 198.83 L399.82 198.94 L400.32 199.06 L400.82 199.17 L401.32 199.29 L401.82 199.41 L402.32 199.54 L402.82 199.66 L403.32 199.80 L403.82 199.93 L404.32 200.08 L404.82 200.23 L405.32 200.38 L405.82 200.54 L406.32 200.70" fill="none" stroke="#ff8000" stroke-width="1.15" stroke-linejoin="round" stroke-linecap="round"/>
<path d="M46.56 58.52 L47.06 58.61 L47.56 58.71 L48.06 58.81 L48.56 58.92 L49.06 59.03 L49.56 59.16 L50.06 59.29 L50.56 59.43 L51.06 59.58 L51.56 59.74 L52.06 59.91 L52.56 60.09 L53.06 60.28 L53.56 60.48 L54.05 60.70 L54.55 60.93 L55.05 61.18 L55.55 61.44 L56.05 61.71 L56.55 62.00 L57.05 62.30 L57.55 62.63 L58.05 62.96 L58.55 63.32 L59.05 63.69 L59.55 64.08 L60.05 64.48 L60.55 64.90 L61.05 65.33 L61.55 65.78 L62.05 66.24 L62.55 66.71 L63.05 67.19 L63.55 67.68 L64.05 68.18 L64.55 68.67 L65.05 69.17 L65.55 69.67 L66.05 70.16 L66.55 70.65 L67.05 71.14 L67.55 71.61 L68.05 72.07 L68.55 72.52 L69.04 72.96 L69.54 73.38 L70.04 73.79 L70.54 74.18 L71.04 74.55 L71.54 74.91 L72.04 75.25 L72.54 75.58 L73.04 75.88 L73.54 76.18 L74.04 76.45 L74.54 76.72 L75.04 76.96 L75.54 77.20 L76.04 77.42 L76.54 77.62 L77.04 77.82 L77.54 78.00 L78.04 78.17 L78.54 78.34 L79.04 78.49 L79.54 78.63 L80.04 78.76 L80.54 78.89 L81.04 79.01 L81.54 79.12 L82.04 79.22 L82.54 79.32 L83.04 79.41 L83.54 79.49 L84.03 79.57 L84.53 79.65 L85.03 79.72 L85.53 79.78 L86.03 79.84 L86.53 79.90 L87.03 79.95 L87.53 80.00 L88.03 80.05 L88.53 80.09 L89.03 80.14 L89.53 80.17 L90.03 80.21 L90.53 80.25 L91.03 80.28 L91.53 80.31 L92.03 80.34 L92.53 80.36 L93.03 80.39 L93.53 80.41 L94.03 80.43 L94.53 80.45 L95.03 80.47 L95.53 80.49 L96.03 80.51 L96.53 80.53 L97.03 80.54 L97.53 80.56 L98.03 80.57 L98.53 80.58 L99.02 80.60 L99.52 80.61 L100.02 80.62 L100.52 80.63 L101.02 80.64 L101.52 80.65 L102.02 80.67 L102.52 80.68 L103.02 80.69 L103.52 80.69 L104.02 80.70 L104.52 80.71 L105.02 80.72 L105.52 80.73 L106.02 80.74 L106.52 80.75 L107.02 80.76 L107.52 80.77 L108.02 80.78 L108.52 80.79 L109.02 80.80 L109.52 80.82 L110.02 80.83 L110.52 80.84 L111.02 80.85 L111.52 80.87 L112.02 80.88 L112.52 80.89 L113.02 80.91 L113.52 80.93 L114.01 80.94 L114.51 80.96 L115.01 80.98 L115.51 81.00 L116.01 81.02 L116.51 81.04 L117.01 81.07 L117.51 81.10 L118.01 81.12 L118.51 81.15 L119.01 81.18 L119.51 81.22 L120.01 81.25 L120.51 81.29 L121.01 81.33 L121.51 81.37 L122.01 81.42 L122.51 81.47 L123.01 81.52 L123.51 81.58 L124.01 81.64 L124.51 81.70 L125.01 81.77 L125.51 81.84 L126.01 81.92 L126.51 82.00 L127.01 82.09 L127.51 82.18 L128.01 82.28 L128.51 82.39 L129.00 82.51 L129.50 82.63 L130.00 82.76 L130.50 82.90 L131.00 83.04 L131.50 83.20 L132.00 83.37 L132.50 83.55 L133.00 83.74 L133.50 83.94 L134.00 84.16 L134.50 84.38 L135.00 84.62 L135.50 84.88 L136.00 85.15 L136.50 85.44 L137.00 85.74 L137.50 86.06 L138.00 86.39 L138.50 86.74 L139.00 87.11 L139.50 87.50 L140.00 87.90 L140.50 88.31 L141.00 88.75 L141.50 89.19 L142.00 89.65 L142.50 90.12 L143.00 90.60 L143.50 91.08 L144.00 91.58 L144.49 92.07 L144.99 92.57 L145.49 93.07 L145.99 93.56 L146.49 94.05 L146.99 94.54 L147.49 95.01 L147.99 95.48 L148.49 95.93 L148.99 96.37 L149.49 96.80 L149.99 97.21 L150.49 97.60 L150.99 97.98 L151.49 98.34 L151.99 98.68 L152.49 99.01 L152.99 99.32 L153.49 99.62 L153.99 99.90 L154.49 100.17 L154.99 100.42 L155.49 100.65 L155.99 100.87 L156.49 101.08 L156.99 101.28 L157.49 101.47 L157.99 101.64 L158.49 101.81 L158.99 101.96 L159.48 102.10 L159.98 102.24 L160.48 102.37 L160.98 102.48 L161.48 102.60 L161.98 102.70 L162.48 102.80 L162.98 102.89 L163.48 102.98 L163.98 103.06 L164.48 103.13 L164.98 103.20 L165.48 103.27 L165.98 103.33 L166.48 103.39 L166.98 103.45 L167.48 103.50 L167.98 103.55 L168.48 103.59 L168.98 103.63 L169.48 103.67 L169.98 103.71 L170.48 103.74 L170.98 103.78 L171.48 103.81 L171.98 103.84 L172.48 103.86 L172.98 103.89 L173.48 103.91 L173.97 103.94 L174.47 103.96 L174.97 103.98 L175.47 104.00 L175.97 104.02 L176.47 104.03 L176.97 104.05 L177.47 104.07 L177.97 104.08 L178.47 104.10 L178.97 104.11 L179.47 104.12 L179.97 104.14 L180.47 104.15 L180.97 104.16 L181.47 104.17 L181.97 104.18 L182.47 104.19 L182.97 104.21 L183.47 104.22 L183.97 104.23 L184.47 104.24 L184.97 104.25 L185.47 104.26 L185.97 104.27 L186.47 104.28 L186.97 104.29 L187.47 104.30 L187.97 104.32 L188.47 104.33 L188.97 104.34 L189.46 104.35 L189.96 104.37 L190.46 104.38 L190.96 104.39 L191.46 104.41 L191.96 104.42 L192.46 104.44 L192.96 104.46 L193.46 104.48 L193.96 104.49 L194.46 104.51 L194.96 104.53 L195.46 104.56 L195.96 104.58 L196.46 104.60 L196.96 104.63 L197.46 104.66 L197.96 104.69 L198.46 104.72 L198.96 104.75 L199.46 104.78 L199.96 104.82 L200.46 104.86 L200.96 104.90 L201.46 104.94 L201.96 104.99 L202.46 105.04 L202.96 105.09 L203.46 105.14 L203.95 105.20 L204.45 105.26 L204.95 105.33 L205.45 105.40 L205.95 105.47 L206.45 105.55 L206.95 105.63 L207.45 105.72 L207.95 105.81 L208.45 105.91 L208.95 106.02 L209.45 106.13 L209.95 106.24 L210.45 106.37 L210.95 106.50 L211.45 106.64 L211.95 106.79 L212.45 106.95 L212.95 107.11 L213.45 107.29 L213.95 107.47 L214.45 107.67 L214.95 107.87 L215.45 108.09 L215.95 108.32 L216.45 108.56 L216.95 108.82 L217.45 109.09 L217.95 109.37 L218.45 109.66 L218.94 109.97 L219.44 110.29 L219.94 110.62 L220.44 110.97 L220.94 111.33 L221.44 111.70 L221.94 112.09 L222.44 112.49 L222.94 112.90 L223.44 113.32 L223.94 113.74 L224.44 114.18 L224.94 114.62 L225.44 115.07 L225.94 115.52 L226.44 115.97 L226.94 116.42 L227.44 116.87 L227.94 117.32 L228.44 117.76 L228.94 118.19 L229.44 118.62 L229.94 119.04 L230.44 119.45 L230.94 119.85 L231.44 120.23 L231.94 120.61 L232.44 120.97 L232.94 121.32 L233.44 121.65 L233.94 121.97 L234.43 122.28 L234.93 122.57 L235.43 122.85 L235.93 123.12 L236.43 123.38 L236.93 123.62 L237.43 123.85 L237.93 124.06 L238.43 124.27 L238.93 124.47 L239.43 124.65 L239.93 124.83 L240.43 124.99 L240.93 125.15 L241.43 125.30 L241.93 125.44 L242.43 125.57 L242.93 125.69 L243.43 125.81 L243.93 125.92 L244.43 126.03 L244.93 126.13 L245.43 126.22 L245.93 126.31 L246.43 126.39 L246.93 126.47 L247.43 126.54 L247.93 126.61 L248.43 126.68 L248.93 126.74 L249.42 126.80 L249.92 126.85 L250.42 126.90 L250.92 126.95 L251.42 127.00 L251.92 127.04 L252.42 127.08 L252.92 127.12 L253.42 127.16 L253.92 127.19 L254.42 127.22 L254.92 127.25 L255.42 127.28 L255.92 127.31 L256.42 127.34 L256.92 127.36 L257.42 127.38 L257.92 127.40 L258.42 127.43 L258.92 127.45 L259.42 127.46 L259.92 127.48 L260.42 127.50 L260.92 127.52 L261.42 127.53 L261.92 127.55 L262.42 127.56 L262.92 127.57 L263.42 127.59 L263.92 127.60 L264.41 127.61 L264.91 127.62 L265.41 127.64 L265.91 127.65 L266.41 127.66 L266.91 127.67 L267.41 127.68 L267.91 127.69 L268.41 127.70 L268.91 127.71 L269.41 127.72 L269.91 127.73 L270.41 127.74 L270.91 127.76 L271.41 127.77 L271.91 127.78 L272.41 127.79 L272.91 127.80 L273.41 127.82 L273.91 127.83 L274.41 127.84 L274.91 127.86 L275.41 127.87 L275.91 127.89 L276.41 127.90 L276.91 127.92 L277.41 127.94 L277.91 127.96 L278.41 127.98 L278.90 128.00 L279.40 128.02 L279.90 128.05 L280.40 128.07 L280.90 128.10 L281.40 128.13 L281.90 128.16 L282.40 128.19 L282.90 128.23 L283.40 128.27 L283.90 128.31 L284.40 128.35 L284.90 128.39 L285.40 128.44 L285.90 128.49 L286.40 128.55 L286.90 128.61 L287.40 128.67 L287.90 128.73 L288.40 128.81 L288.90 128.88 L289.40 128.96 L289.90 129.05 L290.40 129.14 L290.90 129.24 L291.40 129.34 L291.90 129.45 L292.40 129.57 L292.90 129.70 L293.40 129.84 L293.89 129.98 L294.39 130.13 L294.89 130.30 L295.39 130.47 L295.89 130.66 L296.39 130.85 L296.89 131.06 L297.39 131.29 L297.89 131.52 L298.39 131.77 L298.89 132.04 L299.39 132.32 L299.89 132.61 L300.39 132.93 L300.89 133.25 L301.39 133.60 L301.89 133.96 L302.39 134.34 L302.89 134.73 L303.39 135.14 L303.89 135.57 L304.39 136.01 L304.89 136.46 L305.39 136.93 L305.89 137.40 L306.39 137.88 L306.89 138.37 L307.39 138.87 L307.89 139.37 L308.39 139.87 L308.88 140.36 L309.38 140.86 L309.88 141.34 L310.38 141.82 L310.88 142.29 L311.38 142.75 L311.88 143.19 L312.38 143.63 L312.88 144.04 L313.38 144.44 L313.88 144.83 L314.38 145.19 L314.88 145.55 L315.38 145.88 L315.88 146.20 L316.38 146.50 L316.88 146.79 L317.38 147.06 L317.88 147.31 L318.38 147.56 L318.88 147.78 L319.38 148.00 L319.88 148.20 L320.38 148.39 L320.88 148.57 L321.38 148.74 L321.88 148.89 L322.38 149.04 L322.88 149.18 L323.38 149.31 L323.88 149.43 L324.37 149.55 L324.87 149.66 L325.37 149.76 L325.87 149.85 L326.37 149.94 L326.87 150.02 L327.37 150.10 L327.87 150.17 L328.37 150.24 L328.87 150.30 L329.37 150.36 L329.87 150.42 L330.37 150.47 L330.87 150.52 L331.37 150.57 L331.87 150.61 L332.37 150.65 L332.87 150.69 L333.37 150.72 L333.87 150.76 L334.37 150.79 L334.87 150.82 L335.37 150.84 L335.87 150.87 L336.37 150.89 L336.87 150.92 L337.37 150.94 L337.87 150.96 L338.37 150.98 L338.87 150.99 L339.36 151.01 L339.86 151.03 L340.36 151.04 L340.86 151.06 L341.36 151.07 L341.86 151.08 L342.36 151.10 L342.86 151.11 L343.36 151.12 L343.86 151.13 L344.36 151.14 L344.86 151.15 L345.36 151.16 L345.86 151.17 L346.36 151.18 L346.86 151.19 L347.36 151.20 L347.86 151.21 L348.36 151.22 L348.86 151.23 L349.36 151.24 L349.86 151.25 L350.36 151.26 L350.86 151.27 L351.36 151.28 L351.86 151.29 L352.36 151.30 L352.86 151.31 L353.36 151.32 L353.86 151.33 L354.35 151.34 L354.85 151.35 L355.35 151.37 L355.85 151.38 L356.35 151.40 L356.85 151.41 L357.35 151.43 L357.85 151.45 L358.35 151.46 L358.85 151.48 L359.35 151.50 L359.85 151.52 L360.35 151.55 L360.85 151.57 L361.35 151.60 L361.85 151.63 L362.35 151.66 L362.85 151.69 L363.35 151.72 L363.85 151.76 L364.35 151.80 L364.85 151.84 L365.35 151.88 L365.85 151.93 L366.35 151.98 L366.85 152.03 L367.35 152.09 L367.85 152.15 L368.35 152.21 L368.85 152.28 L369.34 152.35 L369.84 152.43 L370.34 152.52 L370.84 152.60 L371.34 152.70 L371.84 152.80 L372.34 152.91 L372.84 153.03 L373.34 153.15 L373.84 153.28 L374.34 153.42 L374.84 153.57 L375.34 153.73 L375.84 153.90 L376.34 154.08 L376.84 154.28 L377.34 154.48 L377.84 154.70 L378.34 154.93 L378.84 155.17 L379.34 155.43 L379.84 155.71 L380.34 155.99 L380.84 156.30 L381.34 156.62 L381.84 156.96 L382.34 157.31 L382.84 157.69 L383.34 158.07 L383.84 158.48 L384.33 158.90 L384.83 159.33 L385.33 159.78 L385.83 160.24 L386.33 160.71 L386.83 161.19 L387.33 161.68 L387.83 162.17 L388.33 162.67 L388.83 163.17 L389.33 163.66 L389.83 164.16 L390.33 164.65 L390.83 165.13 L391.33 165.60 L391.83 166.07 L392.33 166.52 L392.83 166.95 L393.33 167.38 L393.83 167.78 L394.33 168.17 L394.83 168.55 L395.33 168.91 L395.83 169.25 L396.33 169.57 L396.83 169.88 L397.33 170.17 L397.83 170.45 L398.33 170.71 L398.83 170.96 L399.32 171.19 L399.82 171.41 L400.32 171.62 L400.82 171.81 L401.32 172.00 L401.82 172.17 L402.32 172.33 L402.82 172.48 L403.32 172.62 L403.82 172.76 L404.32 172.88 L404.82 173.00 L405.32 173.11 L405.82 173.21 L406.32 173.31" fill="none" stroke="#ffff00" stroke-width="1.15" stroke-linejoin="round" stroke-linecap="round"/>
<path d="M46.56 80.72 L47.06 80.72 L47.56 80.73 L48.06 80.73 L48.56 80.73 L49.06 80.73 L49.56 80.73 L50.06 80.73 L50.56 80.73 L51.06 80.73 L51.56 80.73 L52.06 80.73 L52.56 80.73 L53.06 80.73 L53.56 80.73 L54.05 80.73 L54.55 80.73 L55.05 80.73 L55.55 80.73 L56.05 80.73 L56.55 80.73 L57.05 80.74 L57.55 80.74 L58.05 80.74 L58.55 80.74 L59.05 80.74 L59.55 80.74 L60.05 80.74 L60.55 80.74 L61.05 80.74 L61.55 80.75 L62.05 80.75 L62.55 80.75 L63.05 80.75 L63.55 80.75 L64.05 80.76 L64.55 80.76 L65.05 80.76 L65.55 80.76 L66.05 80.77 L66.55 80.77 L67.05 80.77 L67.55 80.78 L68.05 80.78 L68.55 80.78 L69.04 80.79 L69.54 80.79 L70.04 80.80 L70.54 80.80 L71.04 80.81 L71.54 80.81 L72.04 80.82 L72.54 80.82 L73.04 80.83 L73.54 80.84 L74.04 80.85 L74.54 80.85 L75.04 80.86 L75.54 80.87 L76.04 80.88 L76.54 80.89 L77.04 80.91 L77.54 80.92 L78.04 80.93 L78.54 80.94 L79.04 80.96 L79.54 80.97 L80.04 80.99 L80.54 81.01 L81.04 81.03 L81.54 81.05 L82.04 81.07 L82.54 81.09 L83.04 81.12 L83.54 81.14 L84.03 81.17 L84.53 81.20 L85.03 81.23 L85.53 81.27 L86.03 81.30 L86.53 81.34 L87.03 81.38 L87.53 81.43 L88.03 81.47 L88.53 81.52 L89.03 81.58 L89.53 81.63 L90.03 81.69 L90.53 81.76 L91.03 81.83 L91.53 81.90 L92.03 81.98 L92.53 82.06 L93.03 82.15 L93.53 82.24 L94.03 82.34 L94.53 82.45 L95.03 82.56 L95.53 82.68 L96.03 82.81 L96.53 82.95 L97.03 83.09 L97.53 83.25 L98.03 83.41 L98.53 83.58 L99.02 83.77 L99.52 83.96 L100.02 84.17 L100.52 84.39 L101.02 84.62 L101.52 84.87 L102.02 85.13 L102.52 85.40 L103.02 85.69 L103.52 85.99 L104.02 86.31 L104.52 86.65 L105.02 87.00 L105.52 87.36 L106.02 87.74 L106.52 88.13 L107.02 88.54 L107.52 88.96 L108.02 89.40 L108.52 89.84 L109.02 90.30 L109.52 90.76 L110.02 91.23 L110.52 91.70 L111.02 92.18 L111.52 92.66 L112.02 93.14 L112.52 93.62 L113.02 94.09 L113.52 94.55 L114.01 95.01 L114.51 95.46 L115.01 95.89 L115.51 96.32 L116.01 96.73 L116.51 97.12 L117.01 97.51 L117.51 97.87 L118.01 98.23 L118.51 98.56 L119.01 98.88 L119.51 99.19 L120.01 99.48 L120.51 99.76 L121.01 100.02 L121.51 100.27 L122.01 100.50 L122.51 100.73 L123.01 100.94 L123.51 101.13 L124.01 101.32 L124.51 101.50 L125.01 101.66 L125.51 101.82 L126.01 101.97 L126.51 102.10 L127.01 102.23 L127.51 102.36 L128.01 102.47 L128.51 102.58 L129.00 102.68 L129.50 102.77 L130.00 102.86 L130.50 102.95 L131.00 103.03 L131.50 103.10 L132.00 103.17 L132.50 103.23 L133.00 103.30 L133.50 103.35 L134.00 103.41 L134.50 103.46 L135.00 103.50 L135.50 103.55 L136.00 103.59 L136.50 103.63 L137.00 103.67 L137.50 103.70 L138.00 103.73 L138.50 103.76 L139.00 103.79 L139.50 103.82 L140.00 103.84 L140.50 103.87 L141.00 103.89 L141.50 103.91 L142.00 103.93 L142.50 103.95 L143.00 103.96 L143.50 103.98 L144.00 103.99 L144.49 104.01 L144.99 104.02 L145.49 104.03 L145.99 104.05 L146.49 104.06 L146.99 104.07 L147.49 104.08 L147.99 104.09 L148.49 104.09 L148.99 104.10 L149.49 104.11 L149.99 104.12 L150.49 104.12 L150.99 104.13 L151.49 104.14 L151.99 104.14 L152.49 104.15 L152.99 104.15 L153.49 104.16 L153.99 104.16 L154.49 104.16 L154.99 104.17 L155.49 104.17 L155.99 104.17 L156.49 104.18 L156.99 104.18 L157.49 104.18 L157.99 104.19 L158.49 104.19 L158.99 104.19 L159.48 104.19 L159.98 104.20 L160.48 104.20 L160.98 104.20 L161.48 104.20 L161.98 104.20 L162.48 104.21 L162.98 104.21 L163.48 104.21 L163.98 104.21 L164.48 104.21 L164.98 104.21 L165.48 104.22 L165.98 104.22 L166.48 104.22 L166.98 104.22 L167.48 104.22 L167.98 104.22 L168.48 104.22 L168.98 104.23 L169.48 104.23 L169.98 104.23 L170.48 104.23 L170.98 104.23 L171.48 104.23 L171.98 104.23 L172.48 104.24 L172.98 104.24 L173.48 104.24 L173.97 104.24 L174.47 104.24 L174.97 104.25 L175.47 104.25 L175.97 104.25 L176.47 104.25 L176.97 104.25 L177.47 104.26 L177.97 104.26 L178.47 104.26 L178.97 104.27 L179.47 104.27 L179.97 104.27 L180.47 104.28 L180.97 104.28 L181.47 104.28 L181.97 104.29 L182.47 104.29 L182.97 104.30 L183.47 104.30 L183.97 104.31 L184.47 104.31 L184.97 104.32 L185.47 104.32 L185.97 104.33 L186.47 104.34 L186.97 104.35 L187.47 104.35 L187.97 104.36 L188.47 104.37 L188.97 104.38 L189.46 104.39 L189.96 104.40 L190.46 104.41 L190.96 104.42 L191.46 104.44 L191.96 104.45 L192.46 104.47 L192.96 104.48 L193.46 104.50 L193.96 104.51 L194.46 104.53 L194.96 104.55 L195.46 104.57 L195.96 104.60 L196.46 104.62 L196.96 104.64 L197.46 104.67 L197.96 104.70 L198.46 104.73 L198.96 104.76 L199.46 104.79 L199.96 104.83 L200.46 104.87 L200.96 104.91 L201.46 104.95 L201.96 105.00 L202.46 105.04 L202.96 105.09 L203.46 105.15 L203.95 105.21 L204.45 105.27 L204.95 105.33 L205.45 105.40 L205.95 105.47 L206.45 105.55 L206.95 105.64 L207.45 105.72 L207.95 105.82 L208.45 105.91 L208.95 106.02 L209.45 106.13 L209.95 106.25 L210.45 106.37 L210.95 106.50 L211.45 106.64 L211.95 106.79 L212.45 106.95 L212.95 107.11 L213.45 107.29 L213.95 107.47 L214.45 107.67 L214.95 107.88 L215.45 108.09 L215.95 108.32 L216.45 108.56 L216.95 108.82 L217.45 109.09 L217.95 109.37 L218.45 109.66 L218.94 109.97 L219.44 110.29 L219.94 110.62 L220.44 110.97 L220.94 111.33 L221.44 111.70 L221.94 112.09 L222.44 112.49 L222.94 112.90 L223.44 113.32 L223.94 113.74 L224.44 114.18 L224.94 114.62 L225.44 115.07 L225.94 115.52 L226.44 115.97 L226.94 116.42 L227.44 116.87 L227.94 117.32 L228.44 117.76 L228.94 118.19 L229.44 118.62 L229.94 119.04 L230.44 119.45 L230.94 119.85 L231.44 120.23 L231.94 120.61 L232.44 120.97 L232.94 121.32 L233.44 121.65 L233.94 121.97 L234.43 122.28 L234.93 122.57 L235.43 122.85 L235.93 123.12 L236.43 123.37 L236.93 123.62 L237.43 123.85 L237.93 124.06 L238.43 124.27 L238.93 124.47 L239.43 124.65 L239.93 124.83 L240.43 124.99 L240.93 125.15 L241.43 125.30 L241.93 125.44 L242.43 125.57 L242.93 125.69 L243.43 125.81 L243.93 125.92 L244.43 126.03 L244.93 126.12 L245.43 126.22 L245.93 126.30 L246.43 126.39 L246.93 126.46 L247.43 126.54 L247.93 126.61 L248.43 126.67 L248.93 126.73 L249.42 126.79 L249.92 126.84 L250.42 126.90 L250.92 126.94 L251.42 126.99 L251.92 127.03 L252.42 127.07 L252.92 127.11 L253.42 127.15 L253.92 127.18 L254.42 127.21 L254.92 127.24 L255.42 127.27 L255.92 127.30 L256.42 127.32 L256.92 127.34 L257.42 127.37 L257.92 127.39 L258.42 127.41 L258.92 127.42 L259.42 127.44 L259.92 127.46 L260.42 127.47 L260.92 127.49 L261.42 127.50 L261.92 127.51 L262.42 127.53 L262.92 127.54 L263.42 127.55 L263.92 127.56 L264.41 127.57 L264.91 127.58 L265.41 127.59 L265.91 127.59 L266.41 127.60 L266.91 127.61 L267.41 127.61 L267.91 127.62 L268.41 127.63 L268.91 127.63 L269.41 127.64 L269.91 127.64 L270.41 127.65 L270.91 127.65 L271.41 127.66 L271.91 127.66 L272.41 127.66 L272.91 127.67 L273.41 127.67 L273.91 127.67 L274.41 127.68 L274.91 127.68 L275.41 127.68 L275.91 127.68 L276.41 127.69 L276.91 127.69 L277.41 127.69 L277.91 127.69 L278.41 127.70 L278.90 127.70 L279.40 127.70 L279.90 127.70 L280.40 127.70 L280.90 127.71 L281.40 127.71 L281.90 127.71 L282.40 127.71 L282.90 127.71 L283.40 127.71 L283.90 127.71 L284.40 127.72 L284.90 127.72 L285.40 127.72 L285.90 127.72 L286.40 127.72 L286.90 127.72 L287.40 127.73 L287.90 127.73 L288.40 127.73 L288.90 127.73 L289.40 127.73 L289.90 127.73 L290.40 127.74 L290.90 127.74 L291.40 127.74 L291.90 127.74 L292.40 127.74 L292.90 127.75 L293.40 127.75 L293.89 127.75 L294.39 127.75 L294.89 127.76 L295.39 127.76 L295.89 127.76 L296.39 127.77 L296.89 127.77 L297.39 127.77 L297.89 127.78 L298.39 127.78 L298.89 127.78 L299.39 127.79 L299.89 127.79 L300.39 127.80 L300.89 127.80 L301.39 127.81 L301.89 127.82 L302.39 127.82 L302.89 127.83 L303.39 127.84 L303.89 127.85 L304.39 127.86 L304.89 127.86 L305.39 127.87 L305.89 127.88 L306.39 127.90 L306.89 127.91 L307.39 127.92 L307.89 127.93 L308.39 127.95 L308.88 127.96 L309.38 127.98 L309.88 128.00 L310.38 128.01 L310.88 128.03 L311.38 128.05 L311.88 128.08 L312.38 128.10 L312.88 128.13 L313.38 128.15 L313.88 128.18 L314.38 128.21 L314.88 128.25 L315.38 128.28 L315.88 128.32 L316.38 128.36 L316.88 128.40 L317.38 128.44 L317.88 128.49 L318.38 128.54 L318.88 128.60 L319.38 128.66 L319.88 128.72 L320.38 128.78 L320.88 128.85 L321.38 128.93 L321.88 129.01 L322.38 129.09 L322.88 129.18 L323.38 129.28 L323.88 129.38 L324.37 129.49 L324.87 129.61 L325.37 129.73 L325.87 129.86 L326.37 130.00 L326.87 130.15 L327.37 130.31 L327.87 130.48 L328.37 130.66 L328.87 130.84 L329.37 131.04 L329.87 131.26 L330.37 131.48 L330.87 131.72 L331.37 131.97 L331.87 132.24 L332.37 132.51 L332.87 132.81 L333.37 133.12 L333.87 133.44 L334.37 133.78 L334.87 134.14 L335.37 134.51 L335.87 134.89 L336.37 135.29 L336.87 135.71 L337.37 136.13 L337.87 136.57 L338.37 137.02 L338.87 137.48 L339.36 137.94 L339.86 138.42 L340.36 138.89 L340.86 139.37 L341.36 139.85 L341.86 140.33 L342.36 140.80 L342.86 141.27 L343.36 141.73 L343.86 142.19 L344.36 142.63 L344.86 143.06 L345.36 143.48 L345.86 143.89 L346.36 144.28 L346.86 144.65 L347.36 145.01 L347.86 145.36 L348.36 145.69 L348.86 146.01 L349.36 146.31 L349.86 146.59 L350.36 146.86 L350.86 147.12 L351.36 147.36 L351.86 147.59 L352.36 147.81 L352.86 148.01 L353.36 148.21 L353.86 148.39 L354.35 148.56 L354.85 148.72 L355.35 148.88 L355.85 149.02 L356.35 149.15 L356.85 149.28 L357.35 149.40 L357.85 149.51 L358.35 149.62 L358.85 149.72 L359.35 149.81 L359.85 149.90 L360.35 149.98 L360.85 150.05 L361.35 150.13 L361.85 150.19 L362.35 150.26 L362.85 150.32 L363.35 150.37 L363.85 150.42 L364.35 150.47 L364.85 150.52 L365.35 150.56 L365.85 150.60 L366.35 150.64 L366.85 150.68 L367.35 150.71 L367.85 150.74 L368.35 150.77 L368.85 150.80 L369.34 150.83 L369.84 150.85 L370.34 150.87 L370.84 150.89 L371.34 150.91 L371.84 150.93 L372.34 150.95 L372.84 150.97 L373.34 150.98 L373.84 151.00 L374.34 151.01 L374.84 151.02 L375.34 151.04 L375.84 151.05 L376.34 151.06 L376.84 151.07 L377.34 151.08 L377.84 151.09 L378.34 151.09 L378.84 151.10 L379.34 151.11 L379.84 151.12 L380.34 151.12 L380.84 151.13 L381.34 151.13 L381.84 151.14 L382.34 151.14 L382.84 151.15 L383.34 151.15 L383.84 151.16 L384.33 151.16 L384.83 151.16 L385.33 151.17 L385.83 151.17 L386.33 151.17 L386.83 151.18 L387.33 151.18 L387.83 151.18 L388.33 151.18 L388.83 151.19 L389.33 151.19 L389.83 151.19 L390.33 151.19 L390.83 151.19 L391.33 151.19 L391.83 151.20 L392.33 151.20 L392.83 151.20 L393.33 151.20 L393.83 151.20 L394.33 151.20 L394.83 151.20 L395.33 151.20 L395.83 151.21 L396.33 151.21 L396.83 151.21 L397.33 151.21 L397.83 151.21 L398.33 151.21 L398.83 151.21 L399.32 151.21 L399.82 151.21 L400.32 151.21 L400.82 151.21 L401.32 151.21 L401.82 151.21 L402.32 151.21 L402.82 151.21 L403.32 151.21 L403.82 151.21 L404.32 151.21 L404.82 151.21 L405.32 151.21 L405.82 151.21 L406.32 151.21" fill="none" stroke="#00ff00" stroke-width="1.15" stroke-linejoin="round" stroke-linecap="round"/>
<path d="M46.56 104.22 L47.06 104.22 L47.56 104.22 L48.06 104.22 L48.56 104.22 L49.06 104.22 L49.56 104.22 L50.06 104.22 L50.56 104.22 L51.06 104.22 L51.56 104.22 L52.06 104.22 L52.56 104.22 L53.06 104.22 L53.56 104.22 L54.05 104.22 L54.55 104.22 L55.05 104.22 L55.55 104.22 L56.05 104.22 L56.55 104.22 L57.05 104.22 L57.55 104.22 L58.05 104.22 L58.55 104.22 L59.05 104.22 L59.55 104.22 L60.05 104.22 L60.55 104.22 L61.05 104.22 L61.55 104.22 L62.05 104.22 L62.55 104.22 L63.05 104.22 L63.55 104.22 L64.05 104.22 L64.55 104.22 L65.05 104.22 L65.55 104.22 L66.05 104.22 L66.55 104.22 L67.05 104.22 L67.55 104.22 L68.05 104.22 L68.55 104.22 L69.04 104.22 L69.54 104.22 L70.04 104.22 L70.54 104.22 L71.04 104.22 L71.54 104.22 L72.04 104.22 L72.54 104.22 L73.04 104.22 L73.54 104.22 L74.04 104.22 L74.54 104.22 L75.04 104.22 L75.54 104.22 L76.04 104.22 L76.54 104.22 L77.04 104.22 L77.54 104.22 L78.04 104.22 L78.54 104.22 L79.04 104.22 L79.54 104.22 L80.04 104.22 L80.54 104.22 L81.04 104.22 L81.54 104.22 L82.04 104.22 L82.54 104.22 L83.04 104.22 L83.54 104.22 L84.03 104.22 L84.53 104.22 L85.03 104.22 L85.53 104.22 L86.03 104.22 L86.53 104.22 L87.03 104.22 L87.53 104.22 L88.03 104.22 L88.53 104.22 L89.03 104.22 L89.53 104.22 L90.03 104.22 L90.53 104.22 L91.03 104.22 L91.53 104.22 L92.03 104.22 L92.53 104.22 L93.03 104.22 L93.53 104.22 L94.03 104.22 L94.53 104.22 L95.03 104.22 L95.53 104.22 L96.03 104.22 L96.53 104.22 L97.03 104.22 L97.53 104.22 L98.03 104.22 L98.53 104.22 L99.02 104.22 L99.52 104.22 L100.02 104.22 L100.52 104.22 L101.02 104.22 L101.52 104.22 L102.02 104.22 L102.52 104.22 L103.02 104.22 L103.52 104.22 L104.02 104.22 L104.52 104.22 L105.02 104.22 L105.52 104.22 L106.02 104.22 L106.52 104.22 L107.02 104.22 L107.52 104.22 L108.02 104.22 L108.52 104.22 L109.02 104.22 L109.52 104.22 L110.02 104.22 L110.52 104.22 L111.02 104.22 L111.52 104.22 L112.02 104.22 L112.52 104.22 L113.02 104.22 L113.52 104.22 L114.01 104.22 L114.51 104.22 L115.01 104.22 L115.51 104.22 L116.01 104.22 L116.51 104.22 L117.01 104.22 L117.51 104.22 L118.01 104.22 L118.51 104.22 L119.01 104.22 L119.51 104.22 L120.01 104.22 L120.51 104.22 L121.01 104.22 L121.51 104.22 L122.01 104.22 L122.51 104.22 L123.01 104.22 L123.51 104.22 L124.01 104.22 L124.51 104.22 L125.01 104.22 L125.51 104.22 L126.01 104.22 L126.51 104.22 L127.01 104.22 L127.51 104.22 L128.01 104.22 L128.51 104.22 L129.00 104.22 L129.50 104.22 L130.00 104.22 L130.50 104.22 L131.00 104.22 L131.50 104.22 L132.00 104.22 L132.50 104.22 L133.00 104.22 L133.50 104.22 L134.00 104.22 L134.50 104.22 L135.00 104.22 L135.50 104.22 L136.00 104.22 L136.50 104.22 L137.00 104.22 L137.50 104.22 L138.00 104.22 L138.50 104.22 L139.00 104.22 L139.50 104.22 L140.00 104.22 L140.50 104.22 L141.00 104.22 L141.50 104.22 L142.00 104.22 L142.50 104.22 L143.00 104.22 L143.50 104.22 L144.00 104.22 L144.49 104.22 L144.99 104.22 L145.49 104.22 L145.99 104.22 L146.49 104.22 L146.99 104.22 L147.49 104.22 L147.99 104.22 L148.49 104.22 L148.99 104.22 L149.49 104.22 L149.99 104.22 L150.49 104.22 L150.99 104.22 L151.49 104.22 L151.99 104.22 L152.49 104.22 L152.99 104.22 L153.49 104.22 L153.99 104.22 L154.49 104.22 L154.99 104.22 L155.49 104.22 L155.99 104.22 L156.49 104.22 L156.99 104.22 L157.49 104.22 L157.99 104.22 L158.49 104.22 L158.99 104.22 L159.48 104.22 L159.98 104.22 L160.48 104.23 L160.98 104.23 L161.48 104.23 L161.98 104.23 L162.48 104.23 L162.98 104.23 L163.48 104.23 L163.98 104.23 L164.48 104.23 L164.98 104.23 L165.48 104.23 L165.98 104.23 L166.48 104.23 L166.98 104.23 L167.48 104.23 L167.98 104.23 L168.48 104.23 L168.98 104.23 L169.48 104.24 L169.98 104.24 L170.48 104.24 L170.98 104.24 L171.48 104.24 L171.98 104.24 L172.48 104.24 L172.98 104.24 L173.48 104.24 L173.97 104.25 L174.47 104.25 L174.97 104.25 L175.47 104.25 L175.97 104.25 L176.47 104.26 L176.97 104.26 L177.47 104.26 L177.97 104.26 L178.47 104.27 L178.97 104.27 L179.47 104.27 L179.97 104.27 L180.47 104.28 L180.97 104.28 L181.47 104.29 L181.97 104.29 L182.47 104.29 L182.97 104.30 L183.47 104.30 L183.97 104.31 L184.47 104.31 L184.97 104.32 L185.47 104.33 L185.97 104.33 L186.47 104.34 L186.97 104.35 L187.47 104.35 L187.97 104.36 L188.47 104.37 L188.97 104.38 L189.46 104.39 L189.96 104.40 L190.46 104.41 L190.96 104.43 L191.46 104.44 L191.96 104.45 L192.46 104.47 L192.96 104.48 L193.46 104.50 L193.96 104.52 L194.46 104.53 L194.96 104.55 L195.46 104.57 L195.96 104.60 L196.46 104.62 L196.96 104.64 L197.46 104.67 L197.96 104.70 L198.46 104.73 L198.96 104.76 L199.46 104.79 L199.96 104.83 L200.46 104.87 L200.96 104.91 L201.46 104.95 L201.96 105.00 L202.46 105.04 L202.96 105.09 L203.46 105.15 L203.95 105.21 L204.45 105.27 L204.95 105.33 L205.45 105.40 L205.95 105.48 L206.45 105.55 L206.95 105.64 L207.45 105.72 L207.95 105.82 L208.45 105.91 L208.95 106.02 L209.45 106.13 L209.95 106.25 L210.45 106.37 L210.95 106.50 L211.45 106.64 L211.95 106.79 L212.45 106.95 L212.95 107.11 L213.45 107.29 L213.95 107.47 L214.45 107.67 L214.95 107.88 L215.45 108.09 L215.95 108.32 L216.45 108.56 L216.95 108.82 L217.45 109.09 L217.95 109.37 L218.45 109.66 L218.94 109.97 L219.44 110.29 L219.94 110.62 L220.44 110.97 L220.94 111.33 L221.44 111.70 L221.94 112.09 L222.44 112.49 L222.94 112.90 L223.44 113.32 L223.94 113.74 L224.44 114.18 L224.94 114.62 L225.44 115.07 L225.94 115.52 L226.44 115.97 L226.94 116.42 L227.44 116.87 L227.94 117.32 L228.44 117.76 L228.94 118.19 L229.44 118.62 L229.94 119.04 L230.44 119.45 L230.94 119.85 L231.44 120.23 L231.94 120.61 L232.44 120.97 L232.94 121.32 L233.44 121.65 L233.94 121.97 L234.43 122.28 L234.93 122.57 L235.43 122.85 L235.93 123.12 L236.43 123.37 L236.93 123.62 L237.43 123.85 L237.93 124.06 L238.43 124.27 L238.93 124.47 L239.43 124.65 L239.93 124.83 L240.43 124.99 L240.93 125.15 L241.43 125.30 L241.93 125.44 L242.43 125.57 L242.93 125.69 L243.43 125.81 L243.93 125.92 L244.43 126.02 L244.93 126.12 L245.43 126.22 L245.93 126.30 L246.43 126.39 L246.93 126.46 L247.43 126.54 L247.93 126.61 L248.43 126.67 L248.93 126.73 L249.42 126.79 L249.92 126.84 L250.42 126.90 L250.92 126.94 L251.42 126.99 L251.92 127.03 L252.42 127.07 L252.92 127.11 L253.42 127.15 L253.92 127.18 L254.42 127.21 L254.92 127.24 L255.42 127.27 L255.92 127.29 L256.42 127.32 L256.92 127.34 L257.42 127.37 L257.92 127.39 L258.42 127.41 L258.92 127.42 L259.42 127.44 L259.92 127.46 L260.42 127.47 L260.92 127.49 L261.42 127.50 L261.92 127.51 L262.42 127.53 L262.92 127.54 L263.42 127.55 L263.92 127.56 L264.41 127.57 L264.91 127.58 L265.41 127.58 L265.91 127.59 L266.41 127.60 L266.91 127.61 L267.41 127.61 L267.91 127.62 L268.41 127.63 L268.91 127.63 L269.41 127.64 L269.91 127.64 L270.41 127.65 L270.91 127.65 L271.41 127.65 L271.91 127.66 L272.41 127.66 L272.91 127.66 L273.41 127.67 L273.91 127.67 L274.41 127.67 L274.91 127.68 L275.41 127.68 L275.91 127.68 L276.41 127.68 L276.91 127.69 L277.41 127.69 L277.91 127.69 L278.41 127.69 L278.90 127.69 L279.40 127.69 L279.90 127.70 L280.40 127.70 L280.90 127.70 L281.40 127.70 L281.90 127.70 L282.40 127.70 L282.90 127.70 L283.40 127.70 L283.90 127.70 L284.40 127.71 L284.90 127.71 L285.40 127.71 L285.90 127.71 L286.40 127.71 L286.90 127.71 L287.40 127.71 L287.90 127.71 L288.40 127.71 L288.90 127.71 L289.40 127.71 L289.90 127.71 L290.40 127.71 L290.90 127.71 L291.40 127.71 L291.90 127.71 L292.40 127.71 L292.90 127.71 L293.40 127.71 L293.89 127.71 L294.39 127.72 L294.89 127.72 L295.39 127.72 L295.89 127.72 L296.39 127.72 L296.89 127.72 L297.39 127.72 L297.89 127.72 L298.39 127.72 L298.89 127.72 L299.39 127.72 L299.89 127.72 L300.39 127.72 L300.89 127.72 L301.39 127.72 L301.89 127.72 L302.39 127.72 L302.89 127.72 L303.39 127.72 L303.89 127.72 L304.39 127.72 L304.89 127.72 L305.39 127.72 L305.89 127.72 L306.39 127.72 L306.89 127.72 L307.39 127.72 L307.89 127.72 L308.39 127.72 L308.88 127.72 L309.38 127.72 L309.88 127.72 L310.38 127.72 L310.88 127.72 L311.38 127.72 L311.88 127.72 L312.38 127.72 L312.88 127.72 L313.38 127.72 L313.88 127.72 L314.38 127.72 L314.88 127.72 L315.38 127.72 L315.88 127.72 L316.38 127.72 L316.88 127.72 L317.38 127.72 L317.88 127.72 L318.38 127.72 L318.88 127.72 L319.38 127.72 L319.88 127.72 L320.38 127.72 L320.88 127.72 L321.38 127.72 L321.88 127.72 L322.38 127.72 L322.88 127.72 L323.38 127.72 L323.88 127.72 L324.37 127.72 L324.87 127.72 L325.37 127.72 L325.87 127.72 L326.37 127.72 L326.87 127.72 L327.37 127.72 L327.87 127.72 L328.37 127.72 L328.87 127.72 L329.37 127.72 L329.87 127.72 L330.37 127.72 L330.87 127.72 L331.37 127.72 L331.87 127.72 L332.37 127.72 L332.87 127.72 L333.37 127.72 L333.87 127.72 L334.37 127.72 L334.87 127.72 L335.37 127.72 L335.87 127.72 L336.37 127.72 L336.87 127.72 L337.37 127.72 L337.87 127.72 L338.37 127.72 L338.87 127.72 L339.36 127.72 L339.86 127.72 L340.36 127.72 L340.86 127.72 L341.36 127.72 L341.86 127.72 L342.36 127.72 L342.86 127.72 L343.36 127.72 L343.86 127.72 L344.36 127.72 L344.86 127.72 L345.36 127.72 L345.86 127.72 L346.36 127.72 L346.86 127.72 L347.36 127.72 L347.86 127.72 L348.36 127.72 L348.86 127.72 L349.36 127.72 L349.86 127.72 L350.36 127.72 L350.86 127.72 L351.36 127.72 L351.86 127.72 L352.36 127.72 L352.86 127.72 L353.36 127.72 L353.86 127.72 L354.35 127.72 L354.85 127.72 L355.35 127.72 L355.85 127.72 L356.35 127.72 L356.85 127.72 L357.35 127.72 L357.85 127.72 L358.35 127.72 L358.85 127.72 L359.35 127.72 L359.85 127.72 L360.35 127.72 L360.85 127.72 L361.35 127.72 L361.85 127.72 L362.35 127.72 L362.85 127.72 L363.35 127.72 L363.85 127.72 L364.35 127.72 L364.85 127.72 L365.35 127.72 L365.85 127.72 L366.35 127.72 L366.85 127.72 L367.35 127.72 L367.85 127.72 L368.35 127.72 L368.85 127.72 L369.34 127.72 L369.84 127.72 L370.34 127.72 L370.84 127.72 L371.34 127.72 L371.84 127.72 L372.34 127.72 L372.84 127.72 L373.34 127.72 L373.84 127.72 L374.34 127.72 L374.84 127.72 L375.34 127.72 L375.84 127.72 L376.34 127.72 L376.84 127.72 L377.34 127.72 L377.84 127.72 L378.34 127.72 L378.84 127.72 L379.34 127.72 L379.84 127.72 L380.34 127.72 L380.84 127.72 L381.34 127.72 L381.84 127.72 L382.34 127.72 L382.84 127.72 L383.34 127.72 L383.84 127.72 L384.33 127.72 L384.83 127.72 L385.33 127.72 L385.83 127.72 L386.33 127.72 L386.83 127.72 L387.33 127.72 L387.83 127.72 L388.33 127.72 L388.83 127.72 L389.33 127.72 L389.83 127.72 L390.33 127.72 L390.83 127.72 L391.33 127.72 L391.83 127.72 L392.33 127.72 L392.83 127.72 L393.33 127.72 L393.83 127.72 L394.33 127.72 L394.83 127.72 L395.33 127.72 L395.83 127.72 L396.33 127.72 L396.83 127.72 L397.33 127.72 L397.83 127.72 L398.33 127.72 L398.83 127.72 L399.32 127.72 L399.82 127.72 L400.32 127.72 L400.82 127.72 L401.32 127.72 L401.82 127.72 L402.32 127.72 L402.82 127.72 L403.32 127.72 L403.82 127.72 L404.32 127.72 L404.82 127.72 L405.32 127.72 L405.82 127.72 L406.32 127.72" fill="none" stroke="#0000ff" stroke-width="1.15" stroke-linejoin="round" stroke-linecap="round"/>
<text transform="translate(36.9 219.77) scale(0.870 1)" text-anchor="end" font-size="9.40" fill="#606060"><tspan dy="0.9">−</tspan><tspan dy="-0.9">30</tspan></text>
<text transform="translate(36.9 182.37) scale(0.870 1)" text-anchor="end" font-size="9.40" fill="#606060"><tspan dy="0.9">−</tspan><tspan dy="-0.9">20</tspan></text>
<text transform="translate(36.9 144.97) scale(0.870 1)" text-anchor="end" font-size="9.40" fill="#606060"><tspan dy="0.9">−</tspan><tspan dy="-0.9">10</tspan></text>
<text transform="translate(36.9 107.57) scale(0.870 1)" text-anchor="end" font-size="9.40" fill="#606060">0</text>
<text transform="translate(36.9 70.17) scale(0.870 1)" text-anchor="end" font-size="9.40" fill="#606060">10</text>
<text transform="translate(36.9 32.77) scale(0.870 1)" text-anchor="end" font-size="9.40" fill="#606060">20</text>
<text transform="translate(46.56 241.2) scale(0.951 1)" text-anchor="middle" font-size="8.60" fill="#606060">−30</text>
<text transform="translate(106.52 241.2) scale(0.951 1)" text-anchor="middle" font-size="8.60" fill="#606060">−20</text>
<text transform="translate(166.48 241.2) scale(0.951 1)" text-anchor="middle" font-size="8.60" fill="#606060">−10</text>
<text transform="translate(226.44 241.2) scale(0.951 1)" text-anchor="middle" font-size="8.60" fill="#606060">0</text>
<text transform="translate(286.40 241.2) scale(0.951 1)" text-anchor="middle" font-size="8.60" fill="#606060">10</text>
<text transform="translate(346.36 241.2) scale(0.951 1)" text-anchor="middle" font-size="8.60" fill="#606060">20</text>
<text transform="translate(406.32 241.2) scale(0.951 1)" text-anchor="middle" font-size="8.60" fill="#606060">30</text>
<text transform="translate(14.45 115.65) rotate(-90) scale(1.116 1)" text-anchor="middle" font-size="15" font-weight="bold" fill="#4a4a4a" stroke="#4a4a4a" stroke-width="0.2">Θ(x)</text>
<text class="ser" transform="translate(226.8 261.5) scale(0.9 1)" text-anchor="middle" font-size="17" font-weight="bold" fill="#5c5c5c"><tspan font-style="italic">κ</tspan>x</text>
</svg>
</body></html>
